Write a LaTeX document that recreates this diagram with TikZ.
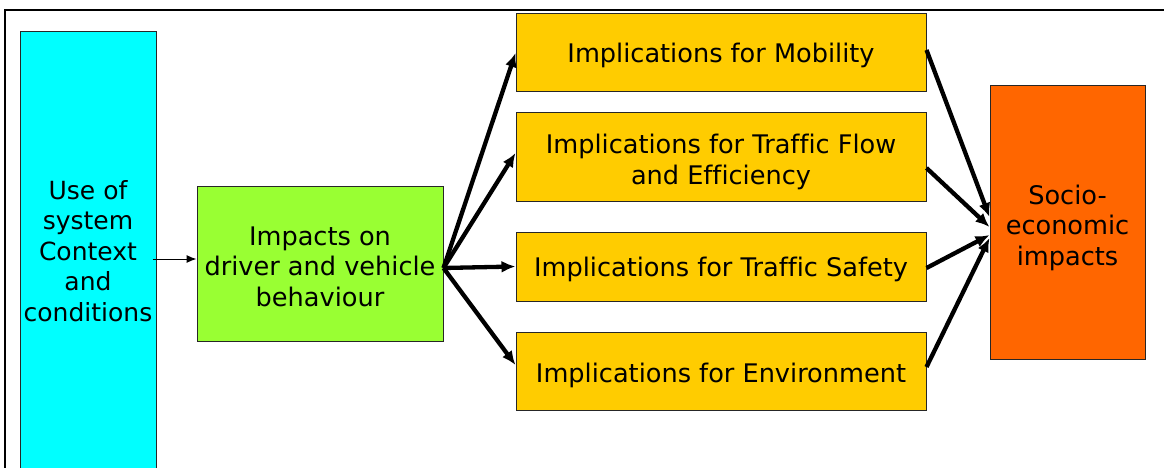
\documentclass[tikz,border=0pt]{standalone}
\usepackage{fontspec}
\setmainfont[Ligatures=NoCommon]{DejaVu Sans}
\usetikzlibrary{arrows.meta,calc}
\definecolor{cyanbox}{HTML}{00FFFF}
\definecolor{greenbox}{HTML}{99FF33}
\definecolor{yellowbox}{HTML}{FFCC00}
\definecolor{orangebox}{HTML}{FF6600}
\tikzset{
  box/.style={draw=black!85, line width=1pt, inner sep=0pt},
  txt/.style={inner sep=0pt, align=center, text=black,
    font=\fontsize{25.6}{30.5}\selectfont},
  thin arrow/.style={line width=1pt, -{Latex[length=10pt,width=8pt]}},
  thick arrow/.style={line width=4.3pt, -{Latex[length=14pt,width=12pt]}},
}
\begin{document}
\begin{tikzpicture}[x=1pt,y=-1pt]
\useasboundingbox (0,0) rectangle (1164,468);
\begin{scope}
\clip (0,0) rectangle (1164,468);
% outer frame
\draw[line width=2.5pt] (5,480) -- (5,10) -- (1180,10);
\node[box, fill=cyanbox, minimum width=136pt, minimum height=440pt] (use) at (88,252) {};
\end{scope}
\node[txt, font=\fontsize{25}{30.5}\selectfont] (uset) at (88,251)
  {Use of\\system\\Context\\and\\conditions};
% boxes
\node[box, fill=greenbox, minimum width=246pt, minimum height=155pt] (imp) at (320,263.5) {};
\node[txt] (impt) at ($(imp)+(0,3)$) {Impacts on\\driver and vehicle\\behaviour};
\node[box, fill=yellowbox, minimum width=410pt, minimum height=78pt] (mob) at (721,53) {};
\node[txt] (mobt) at ($(mob)+(0,2)$) {Implications for Mobility};
\node[box, fill=yellowbox, minimum width=410pt, minimum height=88pt] (flow) at (721,157) {};
\node[txt] (flowt) at ($(flow)+(0,5)$) {Implications for Traffic Flow\\and Efficiency};
\node[box, fill=yellowbox, minimum width=410pt, minimum height=69pt] (saf) at (721,266.5) {};
\node[txt] (saft) at ($(saf)+(0,3)$) {Implications for Traffic Safety};
\node[box, fill=yellowbox, minimum width=410pt, minimum height=78pt] (env) at (721,371) {};
\node[txt] (envt) at ($(env)+(0,4)$) {Implications for Environment};
\node[box, fill=orangebox, minimum width=155pt, minimum height=273pt] (soc) at (1067.5,222.5) {};
\node[txt] (soct) at ($(soc)+(0,5)$) {Socio-\\economic\\impacts};
% connectors
\coordinate (usout) at ($(use.east)+(-4,7)$);
\draw[thin arrow] (usout) -- (imp.west |- usout);
\coordinate (impout) at ($(imp.east)+(0,4.5)$);
\draw[thick arrow] (impout) -- (mob.west);
\draw[thick arrow] (impout) -- ($(flow.west)+(0,-4)$);
\draw[thick arrow] (impout) -- (saf.west);
\draw[thick arrow] (impout) -- ($(env.west)+(0,-6)$);
\draw[thick arrow] ($(mob.east)+(0,-3)$) -- ($(soc.west)+(0,-5.5)$);
\draw[thick arrow] ($(flow.east)+(0,11)$) -- ($(soc.west)+(0,4.5)$);
\draw[thick arrow] ($(saf.east)+(0,1.5)$) -- ($(soc.west)+(0,12.5)$);
\draw[thick arrow] ($(env.east)+(0,-4)$) -- ($(soc.west)+(0,15.5)$);
\end{tikzpicture}
\end{document}
